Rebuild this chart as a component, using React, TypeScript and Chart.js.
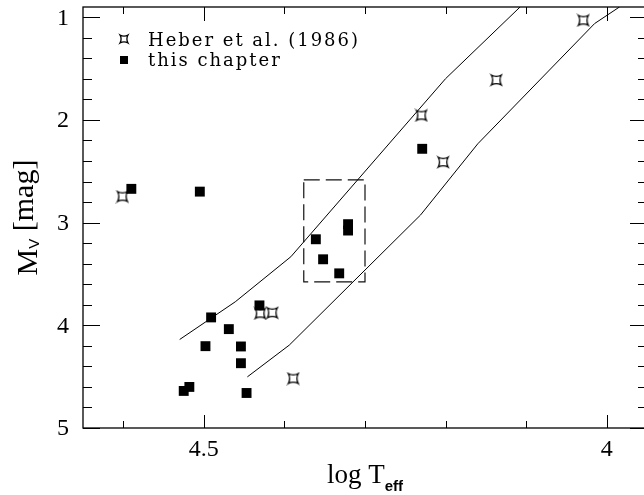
import React, { useEffect, useRef } from "react";
import { Chart, registerables } from "chart.js";

Chart.register(...registerables);

// ---- data ----
const heberLogT = [4.601, 4.029, 4.137, 4.230, 4.203, 4.430, 4.415, 4.389];
const heberMv = [2.746, 1.03, 1.611, 1.956, 2.411, 3.884, 3.878, 4.518];

const chapterLogT = [4.590, 4.505, 4.229, 4.361, 4.321, 4.321, 4.352, 4.332, 4.491, 4.431, 4.469, 4.498, 4.454, 4.454, 4.447, 4.518, 4.525];
const chapterMv = [2.671, 2.698, 2.281, 3.162, 3.015, 3.077, 3.357, 3.494, 3.923, 3.806, 4.037, 4.203, 4.206, 4.369, 4.659, 4.600, 4.639];

const upperLogT = [4.530, 4.461, 4.392, 4.200, 4.107];
const upperMv = [4.138, 3.771, 3.332, 1.598, 0.896];

const lowerLogT = [4.446, 4.394, 4.231, 4.160, 4.015, 3.984];
const lowerMv = [4.502, 4.193, 2.925, 2.232, 1.061, 0.899];

const boxLogT = [4.376, 4.300, 4.300, 4.376, 4.376];
const boxMv = [2.583, 2.583, 3.576, 3.576, 2.583];

const xMajorTicks = [4.5, 4.0];
const xMajorLabels = ["4.5", "4"];
const xMinorTicks = [4.6, 4.4, 4.3, 4.2, 4.1];
const yMajorTicks = [1, 2, 3, 4, 5];
const yMajorLabels = ["1", "2", "3", "4", "5"];
const yMinorTicks = [1.2, 1.4, 1.6, 1.8, 2.2, 2.4, 2.6, 2.8, 3.2, 3.4, 3.6, 3.8, 4.2, 4.4, 4.6, 4.8];

const legendLabels = ["Heber et al. (1986)", "this chapter"];

const toPts = (xs: number[], ys: number[]) => xs.map((x, i) => ({ x, y: ys[i] }));

function makeStar(h: number): HTMLCanvasElement {
  const s = Math.ceil(h * 2 + 4);
  const c = document.createElement("canvas");
  c.width = s;
  c.height = s;
  const g = c.getContext("2d")!;
  const m = s / 2;
  const d = h * 0.55;
  g.strokeStyle = "#000";
  g.lineWidth = 1.3;
  g.beginPath();
  g.moveTo(m - h, m - h);
  g.quadraticCurveTo(m, m - h + d, m + h, m - h);
  g.quadraticCurveTo(m + h - d, m, m + h, m + h);
  g.quadraticCurveTo(m, m + h - d, m - h, m + h);
  g.quadraticCurveTo(m - h + d, m, m - h, m - h);
  g.closePath();
  g.stroke();
  return c;
}

function drawSpaced(ctx: CanvasRenderingContext2D, text: string, x: number, y: number, sp: number) {
  let cx = x;
  for (const ch of text) {
    ctx.fillText(ch, cx, y);
    cx += ctx.measureText(ch).width + sp;
  }
}

export default function App() {
  const ref = useRef<HTMLCanvasElement>(null);
  useEffect(() => {
    const canvas = ref.current!;
    const star = makeStar(5);
    const starSmall = makeStar(4);

    const framePlugin = {
      id: "frame",
      afterDatasetsDraw(chart: any) {
        const { ctx, chartArea: a, scales } = chart;
        const xs = scales.x;
        const ys = scales.y;
        ctx.save();
        ctx.strokeStyle = "#000";
        ctx.fillStyle = "#000";
        ctx.lineWidth = 1.3;
        ctx.strokeRect(a.left, a.top, a.right - a.left, a.bottom - a.top);
        ctx.lineWidth = 1;
        const tick = (x1: number, y1: number, x2: number, y2: number) => {
          ctx.beginPath();
          ctx.moveTo(x1, y1);
          ctx.lineTo(x2, y2);
          ctx.stroke();
        };
        xMajorTicks.forEach((v) => {
          const p = Math.round(xs.getPixelForValue(v)) + 0.5;
          tick(p, a.top, p, a.top + 14);
          tick(p, a.bottom, p, a.bottom - 13);
        });
        xMinorTicks.forEach((v) => {
          const p = Math.round(xs.getPixelForValue(v)) + 0.5;
          tick(p, a.top, p, a.top + 7);
          tick(p, a.bottom, p, a.bottom - 7);
        });
        yMajorTicks.forEach((v) => {
          const p = Math.round(ys.getPixelForValue(v)) + 0.5;
          tick(a.left, p, a.left + 17, p);
          tick(a.right, p, a.right - 17, p);
        });
        yMinorTicks.forEach((v) => {
          const p = Math.round(ys.getPixelForValue(v)) + 0.5;
          tick(a.left, p, a.left + 9, p);
          tick(a.right, p, a.right - 9, p);
        });
        // tick labels
        ctx.font = '24px "Liberation Serif"';
        ctx.textAlign = "center";
        ctx.textBaseline = "alphabetic";
        xMajorTicks.forEach((v, i) => {
          ctx.fillText(xMajorLabels[i], xs.getPixelForValue(v), 456);
        });
        ctx.textAlign = "right";
        ctx.textBaseline = "middle";
        yMajorTicks.forEach((v, i) => {
          ctx.fillText(yMajorLabels[i], 69, ys.getPixelForValue(v) + 1);
        });
        // x title
        ctx.textAlign = "left";
        ctx.textBaseline = "alphabetic";
        ctx.font = '27px "Liberation Serif"';
        const t1 = "log T";
        const w1 = ctx.measureText(t1).width;
        ctx.font = 'bold 15px "Liberation Sans"';
        const w2 = ctx.measureText("eff").width;
        const cx = (a.left + a.right) / 2;
        const sx = cx - (w1 + w2) / 2;
        ctx.font = '27px "Liberation Serif"';
        ctx.fillText(t1, sx, 483);
        ctx.font = 'bold 15px "Liberation Sans"';
        ctx.fillText("eff", sx + w1, 491);
        // y title
        ctx.save();
        ctx.translate(37, (a.top + a.bottom) / 2);
        ctx.rotate(-Math.PI / 2);
        ctx.font = '30px "Liberation Serif"';
        const mW = ctx.measureText("M").width;
        ctx.font = '15px "Liberation Sans"';
        const vW = ctx.measureText("V").width;
        ctx.font = '30px "Liberation Serif"';
        const rest = " [mag]";
        const rW = ctx.measureText(rest).width;
        const tot = mW + vW + rW;
        let px = -tot / 2;
        ctx.fillText("M", px, 0);
        px += mW;
        ctx.font = '15px "Liberation Sans"';
        ctx.fillText("V", px, 2);
        px += vW;
        ctx.font = '30px "Liberation Serif"';
        ctx.fillText(rest, px, -4);
        ctx.restore();
        // legend
        ctx.drawImage(starSmall, 124 - starSmall.width / 2, 39 - starSmall.height / 2);
        ctx.fillRect(124 - 4, 60 - 4, 8, 8);
        ctx.font = '18px "DejaVu Serif"';
        ctx.textBaseline = "alphabetic";
        const target = 210;
        const raw = ctx.measureText(legendLabels[0]).width;
        const sp = (target - raw) / (legendLabels[0].length - 1);
        drawSpaced(ctx, legendLabels[0], 148, 46, sp);
        drawSpaced(ctx, legendLabels[1], 148, 66, sp);
        ctx.restore();
      },
    };

    const chart = new Chart(canvas, {
      type: "scatter",
      data: {
        datasets: [
          {
            label: "upper",
            data: toPts(upperLogT, upperMv),
            showLine: true,
            borderColor: "#000",
            borderWidth: 1,
            pointRadius: 0,
            fill: false,
          },
          {
            label: "lower",
            data: toPts(lowerLogT, lowerMv),
            showLine: true,
            borderColor: "#000",
            borderWidth: 1,
            pointRadius: 0,
            fill: false,
          },
          {
            label: "box",
            data: toPts(boxLogT, boxMv),
            showLine: true,
            borderColor: "#111",
            borderWidth: 1.2,
            borderDash: [16, 6],
            pointRadius: 0,
            fill: false,
          },
          {
            label: legendLabels[0],
            data: toPts(heberLogT, heberMv),
            pointStyle: star as any,
            pointRadius: 6,
            showLine: false,
          },
          {
            label: legendLabels[1],
            data: toPts(chapterLogT, chapterMv),
            pointStyle: "rect",
            pointRadius: 7,
            backgroundColor: "#000",
            borderColor: "#000",
            borderWidth: 0,
            showLine: false,
          },
        ],
      },
      options: {
        responsive: false,
        animation: false,
        layout: { padding: { left: 83, top: 7, right: 13, bottom: 67 } },
        plugins: { legend: { display: false }, tooltip: { enabled: false } },
        scales: {
          x: { type: "linear", reverse: true, min: 3.95, max: 4.65, display: false },
          y: { type: "linear", reverse: true, min: 0.9, max: 5, display: false },
        },
      },
      plugins: [framePlugin],
    });
    return () => chart.destroy();
  }, []);

  return (
    <div style={{ position: "fixed", left: 0, top: 0, width: 644, height: 495, overflow: "hidden", background: "#fff" }}>
      <canvas ref={ref} width={660} height={495} style={{ display: "block" }} />
    </div>
  );
}
